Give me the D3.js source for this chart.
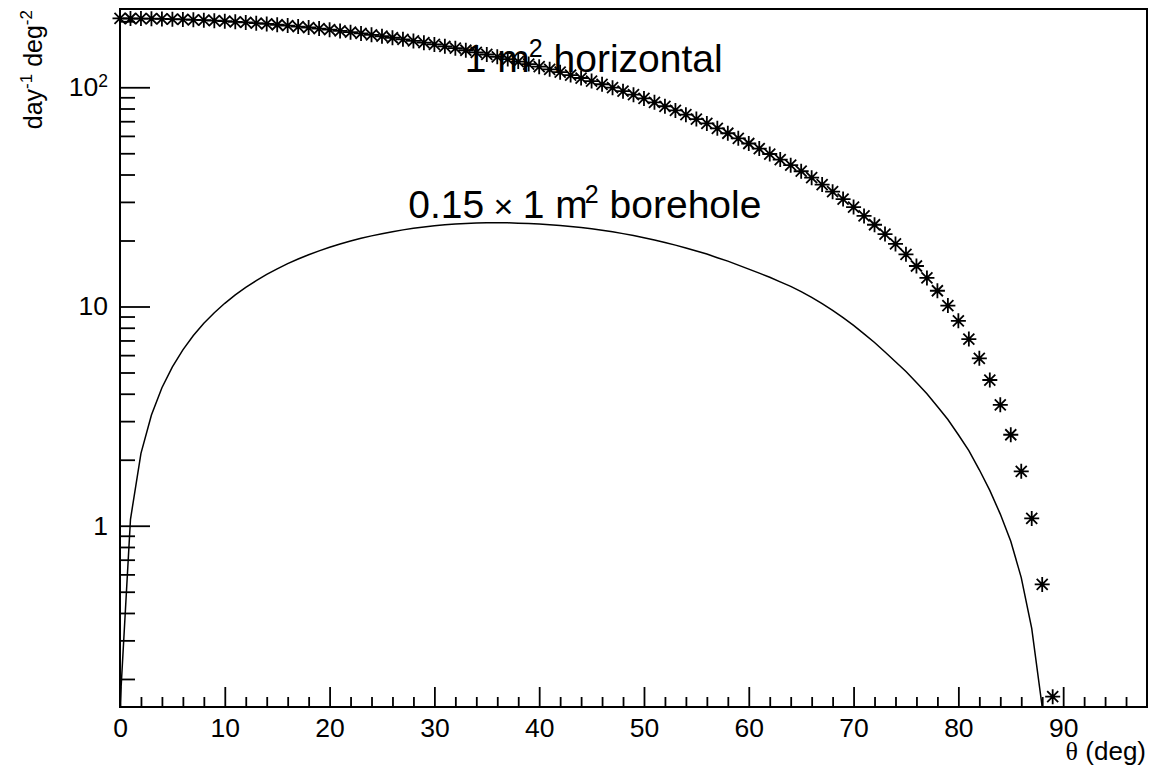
<!DOCTYPE html>
<html lang="en">
<head>
<meta charset="utf-8">
<title>muon rate vs zenith angle</title>
<script src="https://cdn.jsdelivr.net/npm/d3@7"></script>
<style>
  body { margin: 0; background: #fff; }
  text { font-family: "Liberation Sans", Arial, Helvetica, sans-serif; fill: #000; }
</style>
</head>
<body>
<script>
// zenith angle (deg) of each point
var theta = [0, 1, 2, 3, 4, 5, 6, 7, 8, 9,
  10, 11, 12, 13, 14, 15, 16, 17, 18, 19,
  20, 21, 22, 23, 24, 25, 26, 27, 28, 29,
  30, 31, 32, 33, 34, 35, 36, 37, 38, 39,
  40, 41, 42, 43, 44, 45, 46, 47, 48, 49,
  50, 51, 52, 53, 54, 55, 56, 57, 58, 59,
  60, 61, 62, 63, 64, 65, 66, 67, 68, 69,
  70, 71, 72, 73, 74, 75, 76, 77, 78, 79,
  80, 81, 82, 83, 84, 85, 86, 87, 88, 89];

// 1 m2 horizontal (asterisks), day^-1 deg^-2
var horizontal = [206, 205.9, 205.8, 205.5, 205.0, 204.5, 203.9, 203.1, 202.2, 201.2,
  200.1, 198.9, 197.5, 196.0, 194.5, 192.8, 191.1, 189.2, 187.3, 185.2,
  183.0, 180.8, 178.4, 176.0, 173.5, 170.9, 168.2, 165.5, 162.7, 159.8,
  156.8, 153.8, 150.7, 147.5, 144.3, 141.1, 137.7, 134.4, 131.0, 127.6,
  124.2, 120.7, 117.2, 113.7, 110.2, 106.7, 103.2, 99.6, 96.0, 92.5,
  88.9, 85.4, 81.9, 78.4, 75.0, 71.6, 68.4, 65.0, 61.7, 58.5,
  55.4, 52.5, 49.6, 46.8, 44.1, 41.4, 38.7, 36.0, 33.4, 30.9,
  28.4, 25.9, 23.6, 21.4, 19.3, 17.3, 15.3, 13.5, 11.8, 10.1,
  8.6, 7.1, 5.8, 4.62, 3.56, 2.60, 1.77, 1.08, 0.54, 0.166];

// 0.15 x 1 m2 borehole (line)
var borehole = [0, 1.07, 2.14, 3.2, 4.26, 5.3, 6.34, 7.37, 8.38, 9.37,
  10.34, 11.29, 12.22, 13.12, 14.0, 14.85, 15.68, 16.46, 17.22, 17.94,
  18.63, 19.28, 19.89, 20.47, 21.0, 21.49, 21.94, 22.36, 22.73, 23.06,
  23.33, 23.57, 23.77, 23.91, 24.01, 24.09, 24.09, 24.07, 24.0, 23.9,
  23.76, 23.6, 23.4, 23.15, 22.9, 22.6, 22.3, 21.9, 21.5, 21.1,
  20.6, 20.1, 19.6, 19.05, 18.5, 17.9, 17.35, 16.7, 16.1, 15.45,
  14.8, 14.2, 13.6, 12.95, 12.35, 11.7, 11.0, 10.3, 9.6, 8.9,
  8.2, 7.5, 6.85, 6.2, 5.6, 5.05, 4.5, 4.0, 3.5, 3.05,
  2.6, 2.2, 1.8, 1.45, 1.13, 0.85, 0.58, 0.34, 0.14, 0.05];

var xMajor = [0, 10, 20, 30, 40, 50, 60, 70, 80, 90];
var xMinor = [2, 4, 6, 8, 12, 14, 16, 18, 22, 24, 26, 28, 32, 34, 36, 38,
  42, 44, 46, 48, 52, 54, 56, 58, 62, 64, 66, 68, 72, 74, 76, 78,
  82, 84, 86, 88, 92, 94, 96];
var yMajor = [1, 10, 100];
var yMajorLabels = ["1", "10", "10|2"];
var yMinor = [0.2, 0.3, 0.4, 0.5, 0.6, 0.7, 0.8, 0.9,
  2, 3, 4, 5, 6, 7, 8, 9, 20, 30, 40, 50, 60, 70, 80, 90, 200];

var w = 1152, h = 771;
var padL = 120, padR = 1147, padT = 9, padB = 707;

var svg = d3.select("body").append("svg")
  .attr("width", w)
  .attr("height", h);

var x = d3.scaleLinear().domain([0, 98]).range([padL, padR]);
var y = d3.scaleLog().domain([0.149, 227.5]).range([padB, padT]).clamp(true);

// x axis, ticks pointing up into the frame
svg.append("g")
  .attr("transform", "translate(0," + padB + ")")
  .call(d3.axisBottom(x).tickValues(xMajor).tickSize(-20).tickSizeOuter(0).tickPadding(11));
svg.append("g")
  .attr("transform", "translate(0," + padB + ")")
  .call(d3.axisBottom(x).tickValues(xMinor).tickSize(-10).tickSizeOuter(0).tickFormat(""));

// y axis, ticks pointing right
var yAxis = svg.append("g")
  .attr("transform", "translate(" + padL + ",0)")
  .call(d3.axisLeft(y).tickValues(yMajor).tickSize(-30).tickSizeOuter(0).tickPadding(12)
    .tickFormat(function (d, i) { return yMajorLabels[i]; }));
svg.append("g")
  .attr("transform", "translate(" + padL + ",0)")
  .call(d3.axisLeft(y).tickValues(yMinor).tickSize(-15).tickSizeOuter(0).tickFormat(""));

svg.selectAll(".domain").remove();
svg.selectAll(".tick line").attr("stroke", "#000").attr("stroke-width", 1.8);
svg.selectAll(".tick text")
  .attr("font-family", "'Liberation Sans', Arial, Helvetica, sans-serif")
  .attr("font-size", "26.5px")
  .attr("fill", "#000");

// power-of-ten label: base + raised exponent
yAxis.selectAll(".tick text").each(function () {
  var t = d3.select(this);
  var s = t.text();
  if (s.indexOf("|") < 0) return;
  var parts = s.split("|");
  t.text(null);
  t.append("tspan").text(parts[0]);
  t.append("tspan").attr("font-size", "17.5px").attr("dy", "-0.55em").text(parts[1]);
});

// frame
svg.append("rect")
  .attr("x", padL).attr("y", padT)
  .attr("width", padR - padL).attr("height", padB - padT)
  .attr("fill", "none").attr("stroke", "#000").attr("stroke-width", 2);

// borehole curve
var line = d3.line()
  .x(function (d) { return x(d[0]); })
  .y(function (d) { return y(d[1]); });

svg.append("path")
  .datum(theta.map(function (t, i) { return [t, borehole[i]]; }))
  .attr("d", line)
  .attr("fill", "none")
  .attr("stroke", "#000")
  .attr("stroke-width", 1.5);

// horizontal: asterisk markers
svg.selectAll("path.star")
  .data(theta.map(function (t, i) { return [t, horizontal[i]]; }))
  .enter()
  .append("path")
  .attr("class", "star")
  .attr("transform", function (d) { return "translate(" + x(d[0]) + "," + y(d[1]) + ")"; })
  .attr("d", "M-7.5,0H7.5M0,-7.5V7.5M-5.5,-5.5L5.5,5.5M-5.5,5.5L5.5,-5.5")
  .attr("fill", "none")
  .attr("stroke", "#000")
  .attr("stroke-width", 1.8);

// labels
var lab1 = svg.append("text")
  .attr("x", x(32.9)).attr("y", y(118))
  .attr("font-size", "39px");
lab1.append("tspan").text("1 m");
lab1.append("tspan").attr("font-size", "25px").attr("dy", "-15").attr("dx", "-1").text("2");
lab1.append("tspan").attr("dy", "15").text(" horizontal");

var lab2 = svg.append("text")
  .attr("x", x(27.5)).attr("y", y(25.4))
  .attr("font-size", "39px");
lab2.append("tspan").text("0.15");
lab2.append("tspan").attr("font-size", "34px").text(" \u00d7 ");
lab2.append("tspan").text("1 m");
lab2.append("tspan").attr("font-size", "25px").attr("dy", "-15").attr("dx", "-3").text("2");
lab2.append("tspan").attr("dy", "15").text(" borehole");

// axis titles
var xt = svg.append("text")
  .attr("x", padR - 1).attr("y", 760)
  .attr("text-anchor", "end")
  .attr("font-size", "26px");
xt.append("tspan").attr("font-family", "'Liberation Serif', 'Times New Roman', serif").text("\u03b8");
xt.append("tspan").text(" (deg)");

var yt = svg.append("text")
  .attr("transform", "translate(41.5," + (padT + 1) + ") rotate(-90)")
  .attr("text-anchor", "end")
  .attr("font-size", "25px");
yt.append("tspan").text("day");
yt.append("tspan").attr("font-size", "17px").attr("dy", "-10").text("-1");
yt.append("tspan").attr("dy", "10").text(" deg");
yt.append("tspan").attr("font-size", "17px").attr("dy", "-10").text("-2");
</script>
</body>
</html>
